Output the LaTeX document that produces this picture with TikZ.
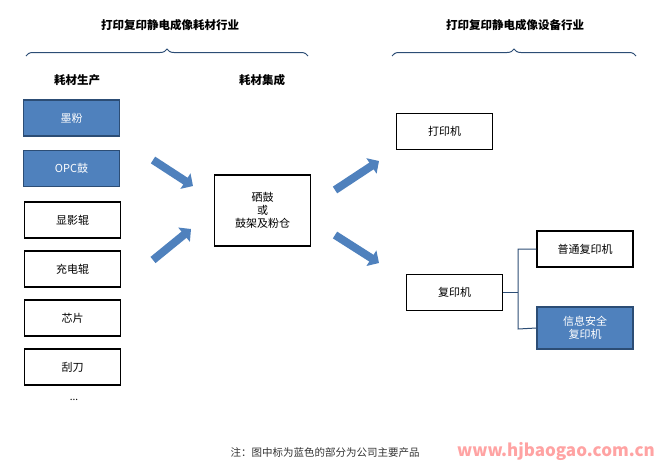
\documentclass[tikz,border=0pt]{standalone}
\usepackage{fontspec}
\setmainfont{Noto Sans CJK SC}
\usetikzlibrary{decorations.pathreplacing,arrows.meta}
\definecolor{bl}{HTML}{4F81BD}
\definecolor{bd}{HTML}{2C4D75}
\begin{document}
\begin{tikzpicture}[x=1pt,y=-1pt,
  box/.style={draw=black,line width=1.3pt,minimum width=96pt,minimum height=36pt,font=\fontsize{11}{13}\selectfont,align=center},
  bbox/.style={box,fill=bl,draw=bd,text=white},
  hd/.style={font=\bfseries\fontsize{11.5}{13}\selectfont},
  barrow/.style={draw=bl!85!black,line width=8pt,-{Triangle[length=9pt,width=18pt]},bl},
  brc/.style={decorate,decoration={brace,amplitude=7pt},draw=bd,line width=1pt}]
\useasboundingbox (0,0) rectangle (655,475);
\node[hd] (h1) at (170,25) {打印复印静电成像耗材行业};
\node[hd] (h2) at (515,25) {打印复印静电成像设备行业};
\draw[brc] (26,56) -- (308,56);
\draw[brc] (392,56) -- (636,56);
\node[hd] (s1) at (77,80) {耗材生产};
\node[hd] (s2) at (262,80) {耗材集成};
\node[bbox] (a1) at (71.5,118) {墨粉};
\node[bbox] (a2) at (71.5,168.5) {OPC鼓};
\node[box] (a3) at (72.5,220) {显影辊};
\node[box] (a4) at (72.5,269) {充电辊};
\node[box] (a5) at (72.5,318) {芯片};
\node[box] (a6) at (72.5,367) {刮刀};
\node (dots) at (74,400) {...};
\node[box,minimum height=71pt] (m) at (262.5,210.5) {硒鼓\\或\\鼓架及粉仓};
\node[box] (p) at (444.5,131.5) {打印机};
\node[box] (c) at (454.5,292.5) {复印机};
\node[box] (c1) at (585,249) {普通复印机};
\node[bbox,minimum height=42pt] (c2) at (585,328) {信息安全\\复印机};
\coordinate (j) at (518,292.5);
\draw[line width=1pt,bd] (c.east) -- (j);
\draw[line width=1pt,bd] (c1.west) -- (518,249) -- (518,329) -- (c2.west);
\draw[barrow] (153,160) -- (193,186);
\draw[barrow] (153,260) -- (191,229);
\draw[barrow] (335,190) -- (379,161);
\draw[barrow] (335,235) -- (379,263);
\node[font=\fontsize{10.5}{12}\selectfont,text=black!80] (note) at (325,453) {注：图中标为蓝色的部分为公司主要产品};
\node[font=\bfseries\fontsize{17}{18}\selectfont,text=red!45,opacity=0.8] (wm) at (556,451) {www.hjbaogao.com.cn};
\end{tikzpicture}
\end{document}
